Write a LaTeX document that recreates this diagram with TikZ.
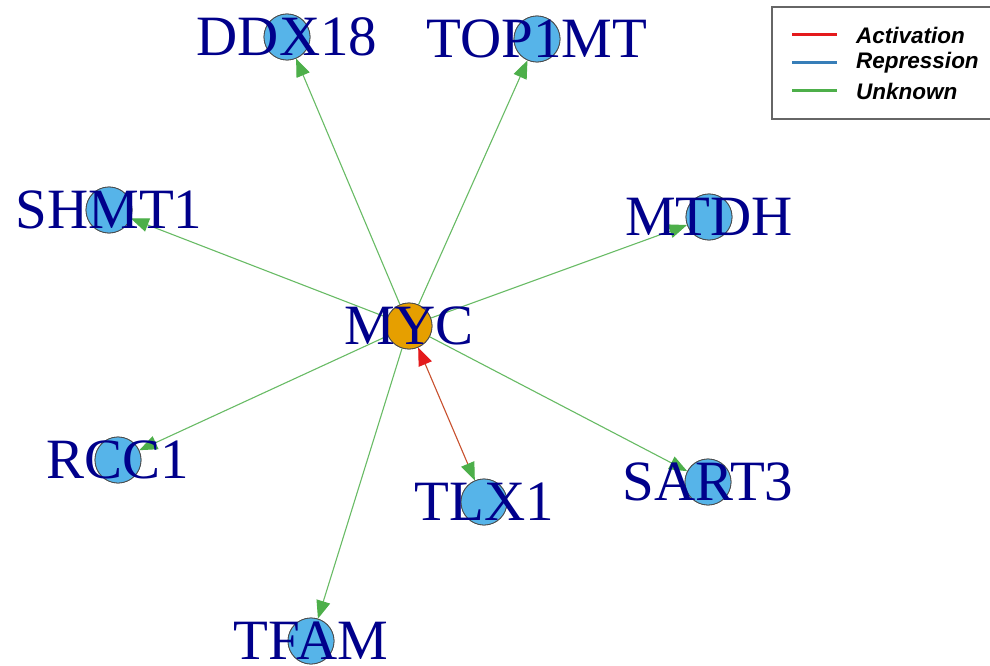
\documentclass[tikz,border=0pt]{standalone}
\usepackage{fontspec}
\setmainfont{Liberation Serif}
\setsansfont{Liberation Sans}
\usetikzlibrary{arrows.meta}
\definecolor{actred}{HTML}{E41A1C}
\definecolor{repblue}{HTML}{377EB8}
\definecolor{unkgreen}{HTML}{4DAF4A}
\definecolor{nodeblue}{HTML}{56B4E9}
\definecolor{nodeorange}{HTML}{E69F00}
\definecolor{labelblue}{HTML}{00008B}
\definecolor{mixedge}{HTML}{C8502E}
\tikzset{
  gene/.style={circle, draw=black!70, line width=0.8pt, fill=nodeblue, minimum size=46pt, inner sep=0pt},
  hub/.style={gene, fill=nodeorange},
  genelabel/.style={text=labelblue, font=\fontsize{57}{57}\selectfont, inner sep=0pt, anchor=center},
  unk/.style={draw=unkgreen!85!white, line width=1.1pt, -{Triangle[length=18pt,width=14pt,fill=unkgreen,color=unkgreen]}},
  legline/.style={line width=3pt},
  legtext/.style={font=\sffamily\bfseries\itshape\fontsize{22.5}{22.5}\selectfont, anchor=west, inner sep=0pt}
}
\begin{document}
\begin{tikzpicture}[x=1pt,y=-1pt]
\clip (0,0) rectangle (990,666);
\fill[white] (0,0) rectangle (990,666);
% circle nodes
\node[hub]  (myc)   at (409,326) {};
\node[gene] (ddx)   at (287,37)  {};
\node[gene] (top)   at (537,39)  {};
\node[gene] (shmt)  at (109,210) {};
\node[gene] (mtdh)  at (709,217) {};
\node[gene] (rcc)   at (118,460) {};
\node[gene] (tlx)   at (484,502) {};
\node[gene] (sart)  at (708,482) {};
\node[gene] (tfam)  at (311,641) {};
% edges
\draw[unk] (myc) -- (ddx);
\draw[unk] (myc) -- (top);
\draw[unk] (myc) -- (shmt);
\draw[unk] (myc) -- (mtdh);
\draw[unk] (myc) -- (rcc);
\draw[unk] (myc) -- (sart);
\draw[unk] (myc) -- (tfam);
\draw[draw=mixedge, line width=1.1pt, {Triangle[length=18pt,width=14pt,fill=actred,color=actred]}-{Triangle[length=18pt,width=14pt,fill=unkgreen,color=unkgreen]}] (myc) -- (tlx);
% redraw circles above edges
\node[hub]  at (myc)  {};
\node[gene] at (ddx)  {};
\node[gene] at (top)  {};
\node[gene] at (shmt) {};
\node[gene] at (mtdh) {};
\node[gene] at (rcc)  {};
\node[gene] at (tlx)  {};
\node[gene] at (sart) {};
\node[gene] at (tfam) {};
% labels
\node[genelabel] (lmyc)  at (myc)  {MYC};
\node[genelabel] (lddx)  at (ddx)  {DDX18};
\node[genelabel] (ltop)  at (top)  {TOP1MT};
\node[genelabel] (lshmt) at (shmt) {SHMT1};
\node[genelabel] (lmtdh) at (mtdh) {MTDH};
\node[genelabel] (lrcc)  at (rcc)  {RCC1};
\node[genelabel] (ltlx)  at (tlx)  {TLX1};
\node[genelabel] (lsart) at (sart) {SART3};
\node[genelabel] (ltfam) at (tfam) {TFAM};
% legend
\draw[draw=black!60, line width=1.6pt, fill=white] (772,7) rectangle (1000,119);
\coordinate (la1) at (792,35);  \coordinate (lb1) at (837,35);
\coordinate (la2) at (792,63);  \coordinate (lb2) at (837,63);
\coordinate (la3) at (792,91);  \coordinate (lb3) at (837,91);
\draw[legline, actred]   (la1) -- (lb1);
\draw[legline, repblue]  (la2) -- (lb2);
\draw[legline, unkgreen] (la3) -- (lb3);
\node[legtext] (t1) at (856,35) {Activation};
\node[legtext] (t2) at (856,63) {Repression};
\node[legtext] (t3) at (856,91) {Unknown};
\end{tikzpicture}
\end{document}
